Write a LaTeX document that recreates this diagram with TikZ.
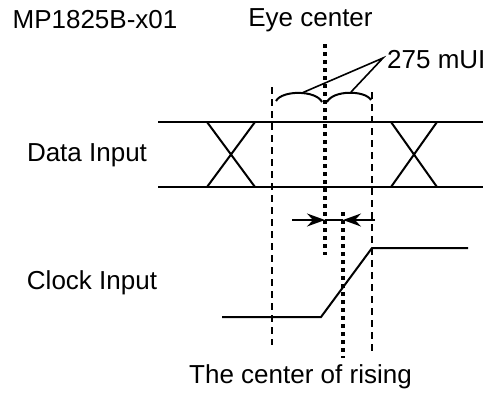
\documentclass[tikz,border=0pt]{standalone}
\usepackage{fontspec}
\setmainfont{Liberation Sans}
\usetikzlibrary{arrows.meta}
\definecolor{TLInk}{HTML}{000000}

\begin{document}
\begin{tikzpicture}[x=1pt,y=-1pt,
  lbl/.style={inner sep=0pt,text=TLInk,font=\fontsize{26}{31}\selectfont},
  sig/.style={TLInk,line width=2pt,line join=miter},
  guide/.style={TLInk,line width=1.8pt,dash pattern=on 7pt off 5pt},
  centerline/.style={TLInk,line width=4.5pt,dash pattern=on 4pt off 4pt},
  thin/.style={TLInk,line width=1.6pt},
  tip/.style={-{Stealth[length=18pt,width=13pt,inset=6pt]},TLInk,line width=1.6pt}]
\path[use as bounding box] (0,0) rectangle (490,392);
% texts
\node[lbl] (model) at (95,20) {MP1825B-x01};
\node[lbl] (eye) at (310.5,20) {Eye center};
\node[lbl,anchor=west] (mui) at (387,60) {275 mUI};
\node[lbl] (data) at (87,155) {Data Input};
\node[lbl] (clock) at (92,283) {Clock Input};
\node[lbl] (rise) at (300.5,377) {The center of rising};
% data input
\draw[sig] (158,122) -- (483,122);
\draw[sig] (158,187) -- (483,187);
\draw[sig] (207,122) -- (255,187);
\draw[sig] (255,122) -- (207,187);
\draw[sig] (391,122) -- (437,187);
\draw[sig] (437,122) -- (391,187);
% clock input
\draw[sig] (222,317) -- (321,317) -- (372,248) -- (468,248);
% window limits
\coordinate (lo top) at (272,87);
\coordinate (lo bot) at (272,345);
\coordinate (hi top) at (372,92);
\coordinate (hi bot) at (372,353);
\draw[guide] (lo top) -- (lo bot);
\draw[guide] (hi top) -- (hi bot);
% center lines
\coordinate (eye top) at (325,44);
\coordinate (eye bot) at (325,255);
\coordinate (rise top) at (343,212);
\coordinate (rise bot) at (343,358);
\draw[centerline] (eye top) -- (eye bot);
\draw[centerline] (rise top) -- (rise bot);
% braces and leaders
\coordinate (brace a) at (303,92.5);
\coordinate (brace b) at (351,92);
\draw[sig] (276,101) .. controls (282,90) and (316,90) .. (322,102);
\draw[sig] (327,102) .. controls (333,90) and (365,90) .. (371,100);
\draw[thin] (brace a) -- ([xshift=-4pt,yshift=2pt]mui.west) -- (brace b);
% offset arrows
\coordinate (arr l) at (292,220);
\coordinate (arr r) at (375,220);
\coordinate (eye arr) at (325,220);
\coordinate (rise arr) at (343,220);
\draw[thin] (eye arr) -- (rise arr);
\draw[tip] (arr l) -- (eye arr);
\draw[tip] (arr r) -- (rise arr);
\end{tikzpicture}
\end{document}
